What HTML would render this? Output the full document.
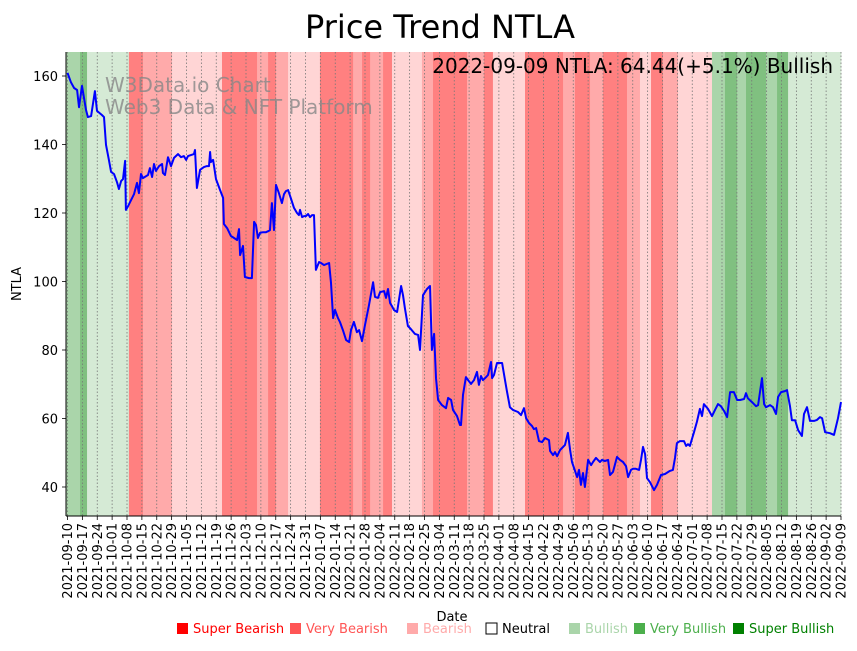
<!DOCTYPE html>
<html><head><meta charset="utf-8"><style>
body{margin:0;background:#fff;font-family:"Liberation Sans","DejaVu Sans",sans-serif}
svg text{font-family:"DejaVu Sans","Liberation Sans",sans-serif}
</style></head><body>
<svg id="chart" width="857" height="646" viewBox="0 0 857 646" xmlns="http://www.w3.org/2000/svg">
<text x="440" y="38" font-size="32" text-anchor="middle">Price Trend NTLA</text>
<g id="bands"></g>
<g id="grid"></g>
<text x="105" y="92" font-size="20" fill="#888" opacity="0.8">W3Data.io Chart</text>
<text x="105" y="114" font-size="20" fill="#888" opacity="0.8">Web3 Data &amp; NFT Platform</text>
<path id="line" fill="none" stroke="#0000ff" stroke-width="2" stroke-linejoin="round"/>
<text x="833" y="73" font-size="20" text-anchor="end">2022-09-09 NTLA: 64.44(+5.1%) Bullish</text>
<g id="axes"></g>
<text transform="translate(21,284) rotate(-90)" font-size="13" text-anchor="middle">NTLA</text>
<text x="452" y="621" font-size="13" text-anchor="middle">Date</text>
<g id="legend"></g>
</svg>
<script>
const days=[0,1.6,3.1,4.5,5.4,6.8,8.7,9.6,11.1,12.9,13.9,16.2,17.2,18.1,19.5,20.5,21.9,23.3,24.2,25.2,26.1,27.1,27.5,28.5,31.3,32.7,33.6,34.6,35.5,37.9,38.8,39.8,40.7,41.6,43.1,44.5,44.9,45.9,47.3,48.7,50.1,52.0,53.4,54.8,55.8,56.7,59.5,60.0,60.9,62.4,64.2,65.6,66.6,67.1,67.5,68.5,69.9,71.8,73.2,73.6,75.1,76.9,78.4,79.8,80.7,81.2,82.6,83.5,85.4,86.8,87.8,88.7,89.6,90.6,92.0,93.4,94.4,95.3,96.2,97.2,98.1,99.5,100.9,101.9,102.8,103.8,105.2,106.6,108.0,108.9,109.4,110.4,111.3,112.2,113.2,114.1,115.1,116.0,116.9,118.4,119.3,120.7,123.1,124.0,125.0,125.9,127.3,128.2,129.6,131.1,132.5,133.4,134.8,136.2,137.2,138.6,140.0,141.9,143.8,144.7,146.1,147.1,149.0,149.9,150.8,151.8,152.7,153.6,155.1,157.0,157.9,158.8,160.2,161.6,163.5,165.0,165.9,167.3,169.2,170.6,171.5,172.5,173.4,174.4,176.2,178.1,179.1,180.5,181.4,183.3,184.7,185.2,186.1,187.5,188.5,189.9,191.3,192.7,193.6,194.6,195.5,197.0,197.9,199.3,199.8,200.7,202.1,204.5,205.9,206.8,208.2,209.6,212.0,213.4,214.8,215.8,217.2,218.6,219.5,220.5,221.9,223.3,224.7,226.6,227.1,228.5,229.4,230.4,231.8,234.1,235.5,236.5,237.4,238.4,239.8,240.7,241.6,242.6,243.5,245.0,246.4,247.3,248.7,249.6,250.6,251.5,252.9,254.4,255.3,256.7,258.6,260.0,261.4,262.8,263.8,265.2,266.1,267.5,269.0,269.9,270.8,271.8,272.7,274.1,276.0,277.4,279.3,281.2,283.5,284.9,285.9,286.8,288.2,290.1,291.1,292.0,292.9,294.8,296.2,297.6,298.6,299.5,301.4,303.3,304.7,306.1,307.5,309.0,310.4,311.8,313.6,315.1,316.5,318.4,319.3,320.2,322.1,324.0,325.0,326.8,327.8,328.7,330.6,332.0,333.4,334.4,335.8,337.6,338.6,340.0,340.9,342.4,343.8,345.6,346.6,348.0,349.4,351.3,352.7,354.1,355.1,356.5,358.8,360.7,362.6,364.0];
const prices=[160.9,158.2,156.5,155.9,150.9,157.1,150.1,148.0,148.3,155.6,149.8,148.6,148.0,139.9,135.5,132.0,131.4,129.0,127.0,129.3,129.9,135.2,120.9,122.0,125.5,128.8,125.8,131.4,130.2,131.1,133.1,130.5,134.3,132.3,133.7,134.3,131.7,131.1,136.3,133.7,136.1,137.2,136.3,136.6,135.5,136.6,137.2,138.4,127.3,132.6,133.4,133.7,133.7,137.8,134.9,135.5,129.9,126.7,124.4,116.8,115.6,113.3,112.7,112.1,115.3,107.7,110.4,101.3,101.0,101.0,117.4,116.5,112.7,114.2,114.4,114.4,114.7,115.0,122.9,115.0,128.2,125.8,122.9,125.5,126.4,126.7,124.1,121.5,120.0,119.4,120.9,118.8,119.1,119.1,119.7,118.8,119.4,119.4,103.4,105.7,105.4,104.8,105.4,99.6,89.3,91.7,89.3,88.2,85.8,82.9,82.3,85.8,88.2,85.2,85.8,82.6,87.3,93.1,99.8,95.5,95.2,96.9,97.2,95.2,97.8,93.7,92.8,91.7,91.1,98.7,96.0,92.2,87.0,86.1,84.7,84.4,80.0,96.0,97.8,98.7,80.0,84.7,71.8,65.4,63.9,63.0,66.0,65.4,62.5,60.7,58.1,58.1,66.9,72.1,71.2,70.1,71.2,73.6,69.8,72.4,71.2,72.1,72.7,76.5,71.8,72.7,76.2,76.2,71.2,68.0,63.3,62.5,61.9,61.0,63.0,60.1,58.7,57.8,56.9,57.2,53.4,53.1,54.3,53.7,50.5,49.3,50.2,49.0,50.8,52.3,55.8,50.8,47.3,45.5,42.9,45.0,40.6,44.1,40.0,47.9,46.4,47.3,48.5,47.9,47.3,47.9,47.6,47.9,43.5,44.4,48.8,47.9,47.3,46.1,42.9,45.0,45.3,45.3,45.0,47.9,51.7,49.6,42.6,41.4,39.1,40.6,43.5,43.8,44.7,45.0,48.5,52.8,53.4,53.4,52.0,52.5,52.0,56.0,59.0,62.8,60.7,64.2,62.8,60.7,62.5,64.2,63.6,62.2,60.4,67.7,67.7,65.4,65.4,65.7,67.4,65.9,64.8,63.6,63.9,71.8,64.2,63.3,63.9,63.3,61.3,66.3,67.7,68.0,68.3,63.6,59.5,59.5,56.6,54.9,61.3,63.3,59.3,59.3,59.6,60.4,60.1,56.0,55.7,55.2,60.1,64.8];
const bandStart=[0,5.9,9.2,28.9,35.5,49.2,72.7,89.2,94.4,98.1,103.8,118.8,134.4,138.6,142.4,148.5,152.7,166.8,172.0,188.0,196.0,200.2,215.3,233.2,238.8,245.9,252.0,263.3,269.4,274.6,280.2,287.3,303.3,309.4,315.1,319.3,328.7,333.9,339.1];
const bandEnd=[5.9,9.2,28.9,35.5,49.2,72.7,89.2,94.4,98.1,103.8,118.8,134.4,138.6,142.4,148.5,152.7,166.8,172.0,188.0,196.0,200.2,215.3,233.2,238.8,245.9,252.0,263.3,269.4,274.6,280.2,287.3,303.3,309.4,315.1,319.3,328.7,333.9,339.1,364];
const bandLevel=[2,3,1,-3,-2,-1,-3,-2,-3,-2,-1,-3,-2,-3,-2,-3,-1,-2,-3,-2,-3,-1,-3,-2,-3,-2,-3,-2,-1,-3,-2,-1,2,3,2,3,2,3,1];
const tickLabels=["2021-09-10","2021-09-17","2021-09-24","2021-10-01","2021-10-08","2021-10-15","2021-10-22","2021-10-29","2021-11-05","2021-11-12","2021-11-19","2021-11-26","2021-12-03","2021-12-10","2021-12-17","2021-12-24","2021-12-31","2022-01-07","2022-01-14","2022-01-21","2022-01-28","2022-02-04","2022-02-11","2022-02-18","2022-02-25","2022-03-04","2022-03-11","2022-03-18","2022-03-25","2022-04-01","2022-04-08","2022-04-15","2022-04-22","2022-04-29","2022-05-06","2022-05-13","2022-05-20","2022-05-27","2022-06-03","2022-06-10","2022-06-17","2022-06-24","2022-07-01","2022-07-08","2022-07-15","2022-07-22","2022-07-29","2022-08-05","2022-08-12","2022-08-19","2022-08-26","2022-09-02","2022-09-09"];
const yTicks=[40,60,80,100,120,140,160];

const X0=67.5,X1=841,Y0=516,YT=52;
const x=d=>X0+(d/364)*(X1-X0);
const y=v=>487+(v-40)*(76-487)/120;
const NS="http://www.w3.org/2000/svg";
function mk(tag,attrs,parent){const e=document.createElementNS(NS,tag);for(const k in attrs)e.setAttribute(k,attrs[k]);parent.appendChild(e);return e;}
const colors={"3":"#80c080","2":"#aad5aa","1":"#d5ead5","-1":"#ffd5d5","-2":"#ffaaaa","-3":"#ff8080"};
const bands=document.getElementById('bands');
mk('rect',{x:66,y:YT,width:X1-66,height:Y0-YT,fill:'#fff'},bands);
bandStart.forEach((s,i)=>{
  const x1=i===0?66:x(s);
  const r=mk('rect',{x:x1,y:YT,width:x(bandEnd[i])-x1+0.4,height:Y0-YT,fill:colors[bandLevel[i]]},bands);
  
  
});
const grid=document.getElementById('grid'),axes=document.getElementById('axes');
tickLabels.forEach((t,i)=>{
  const xx=x(i*7);
  mk('line',{x1:xx,x2:xx,y1:YT,y2:Y0,stroke:'#777','stroke-width':0.8,'stroke-dasharray':'1.5,2'},grid);
  mk('line',{x1:xx,x2:xx,y1:Y0,y2:Y0+4,stroke:'#000','stroke-width':0.8},axes);
  const tx=mk('text',{transform:`translate(${xx+4.5},${Y0+7}) rotate(-90)`,'font-size':13,'text-anchor':'end'},axes);
  tx.textContent=t;
  
  
});
yTicks.forEach(v=>{
  mk('line',{x1:62,x2:66,y1:y(v),y2:y(v),stroke:'#000','stroke-width':0.8},axes);
  const tx=mk('text',{x:58,y:y(v)+5,'font-size':13,'text-anchor':'end'},axes);
  tx.textContent=v;
  
  
});
mk('line',{x1:66,x2:66,y1:YT,y2:Y0,stroke:'#000','stroke-width':1},axes);
mk('line',{x1:66,x2:X1,y1:Y0,y2:Y0,stroke:'#000','stroke-width':1},axes);
const n=Math.min(days.length,prices.length);
let dstr='';
for(let i=0;i<n;i++){dstr+=(i?'L':'M')+x(days[i]).toFixed(1)+','+y(prices[i]).toFixed(1);}
document.getElementById('line').setAttribute('d',dstr);
const leg=[["Super Bearish","#ff0000","#ff0000",177],["Very Bearish","#ff5555","#ff5555",290],["Bearish","#ffaaaa","#ffaaaa",407],["Neutral","#fff","#000",486],["Bullish","#aad5aa","#aad5aa",569],["Very Bullish","#4caf4c","#4caf4c",634],["Super Bullish","#008000","#008000",733]];
const lg=document.getElementById('legend');
leg.forEach(l=>{
  const r=mk('rect',{x:l[3],y:623,width:11,height:11,fill:l[1],stroke:l[1]==='#fff'?'#000':'none'},lg);
  
  
  const t=mk('text',{x:l[3]+16,y:633,'font-size':13,fill:l[2]},lg);
  t.textContent=l[0];
  
  
});
</script>
</body></html>
